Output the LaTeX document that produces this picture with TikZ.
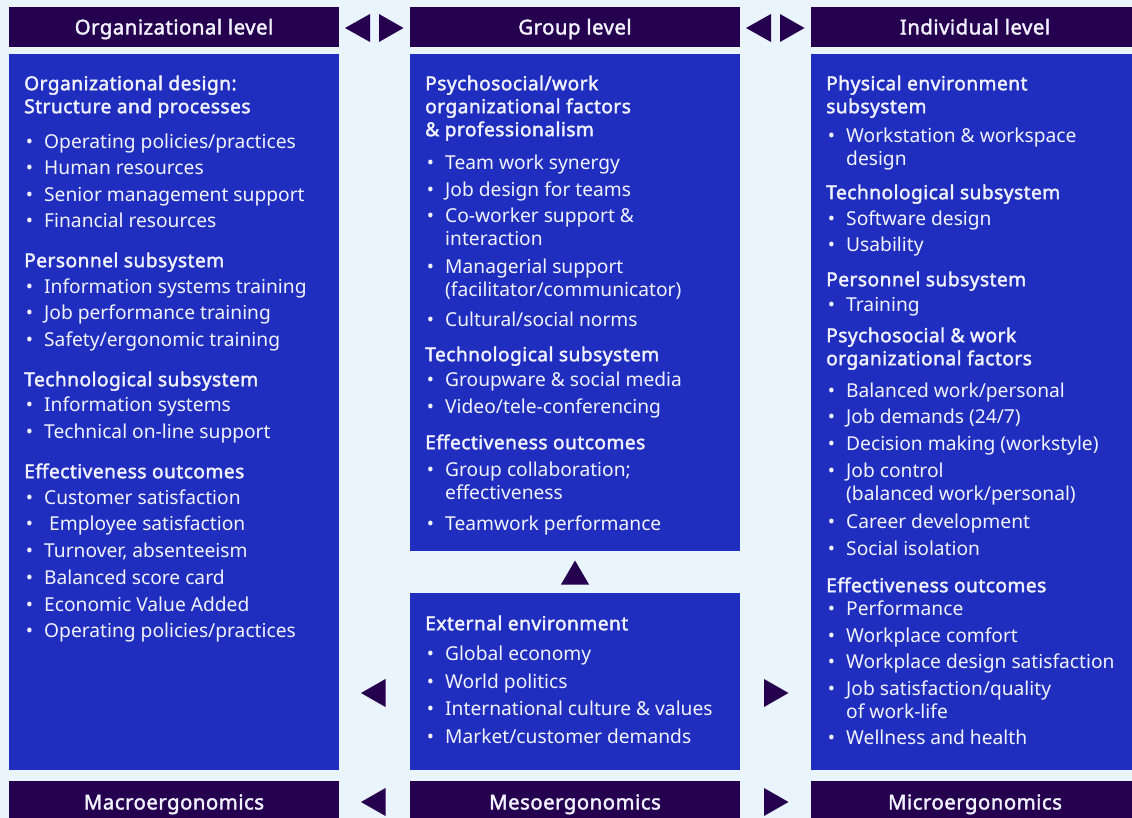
\documentclass[tikz,border=0pt]{standalone}
\usepackage{fontspec}
\setmainfont{Noto Sans}
\newfontfamily\hdfont{Noto Sans}[FakeBold=1.9, LetterSpace=2.3]
\definecolor{bgc}{HTML}{EAF4FD}
\definecolor{darkc}{HTML}{24004F}
\definecolor{panelc}{HTML}{1F2EBE}
\definecolor{txtc}{HTML}{F2F2FF}
\tikzset{
  bar/.style={fill=darkc, draw=none},
  panel/.style={fill=panelc, draw=none},
  tri/.style={fill=darkc, draw=none},
  bartxt/.style={text=txtc, inner sep=0pt, anchor=base, yshift=-7.4pt, font=\fontsize{20.4pt}{24pt}\hdfont},
  ith/.style={text=txtc, inner sep=0pt, anchor=base west, xshift=-20pt, yshift=-7.2pt, font=\fontsize{19.2pt}{23pt}\hdfont},
  itb/.style={text=txtc, inner sep=0pt, anchor=base west, yshift=-7.2pt, font=\fontsize{19.2pt}{23pt}\selectfont, execute at begin node={\llap{\textbullet\hspace{11pt}}}},
  itc/.style={text=txtc, inner sep=0pt, anchor=base west, yshift=-7.2pt, font=\fontsize{19.2pt}{23pt}\selectfont},
}
\newcommand\colitems[3]{%
  \foreach \yy/\kk/\tx [count=\n] in {#3}{\node[it\kk] (#1\n) at (#2,\yy) {\tx};}}
\begin{document}
\begin{tikzpicture}[x=1pt,y=-1pt]
\fill[bgc] (0,0) rectangle (1132,818);
\useasboundingbox (0,0) rectangle (1132,818);
% header bars
\fill[bar] (9,7) rectangle (339,47.5);
\fill[bar] (410,7) rectangle (740,47.5);
\fill[bar] (811,7) rectangle (1132,47.5);
\node[bartxt] (hOrg) at (174,27) {Organizational level};
\node[bartxt] (hGrp) at (575,27) {Group level};
\node[bartxt] (hInd) at (975,27) {Individual level};
% panels
\fill[panel] (9,54) rectangle (339,770);
\fill[panel] (410,54) rectangle (740,551);
\fill[panel] (410,593) rectangle (740,770);
\fill[panel] (811,54) rectangle (1132,770);
% bottom bars
\fill[bar] (9,781) rectangle (339,818);
\fill[bar] (410,781) rectangle (740,818);
\fill[bar] (811,781) rectangle (1132,818);
\node[bartxt] (bMacro) at (174,802) {Macroergonomics};
\node[bartxt] (bMeso) at (575,802) {Mesoergonomics};
\node[bartxt] (bMicro) at (975,802) {Microergonomics};
% triangles
\fill[tri] (345,28) -- (370,14) -- (370,42) -- cycle;
\fill[tri] (379,14) -- (403.5,28) -- (379,42) -- cycle;
\fill[tri] (746,28) -- (771,14) -- (771,42) -- cycle;
\fill[tri] (780,14) -- (804.5,28) -- (780,42) -- cycle;
\fill[tri] (561,584.5) -- (589,584.5) -- (575,560.5) -- cycle;
\fill[tri] (361,693) -- (385.5,679) -- (385.5,707) -- cycle;
\fill[tri] (764,679) -- (788.5,693) -- (764,707) -- cycle;
\fill[tri] (361,802) -- (385.5,788) -- (385.5,816) -- cycle;
\fill[tri] (764,788) -- (788.5,802) -- (764,816) -- cycle;
% left column
\colitems{L}{44}{83/h/{Organizational design:},106/h/{Structure and processes},
141/b/{Operating policies/practices},167/b/{Human resources},194/b/{Senior management support},220/b/{Financial resources},
260/h/{Personnel subsystem},286/b/{Information systems training},312/b/{Job performance training},339/b/{Safety/ergonomic training},
379/h/{Technological subsystem},404/b/{Information systems},431/b/{Technical on-line support},
471/h/{Effectiveness outcomes},497/b/{Customer satisfaction},523/b/{\hspace{5pt}Employee satisfaction},550/b/{Turnover, absenteeism},
577/b/{Balanced score card},604/b/{Economic Value Added},630/b/{Operating policies/practices}}
% middle top column
\colitems{G}{445}{83/h/{Psychosocial/work},106/h/{organizational factors},129/h/{\& professionalism},
162/b/{Team work synergy},189/b/{Job design for teams},215/b/{Co-worker support \&},238/c/{interaction},
266/b/{Managerial support},289/c/{(facilitator/communicator)},319/b/{Cultural/social norms},
354/h/{Technological subsystem},379/b/{Groupware \& social media},406/b/{Video/tele-conferencing},
442/h/{Effectiveness outcomes},469/b/{Group collaboration;},492/c/{effectiveness},523/b/{Teamwork performance}}
% middle bottom column
\colitems{E}{445}{623/h/{External environment},653/b/{Global economy},681/b/{World politics},
708/b/{International culture \& values},736/b/{Market/customer demands}}
% right column
\colitems{I}{846}{83/h/{Physical environment},106/h/{subsystem},135/b/{Workstation \& workspace},158/c/{design},
192/h/{Technological subsystem},218/b/{Software design},244/b/{Usability},
279/h/{Personnel subsystem},304/b/{Training},
335/h/{Psychosocial \& work},358/h/{organizational factors},
390/b/{Balanced work/personal},416/b/{Job demands (24/7)},443/b/{Decision making (workstyle)},
470/b/{Job control},493/c/{(balanced work/personal)},521/b/{Career development},548/b/{Social isolation},
585/h/{Effectiveness outcomes},608/b/{Performance},635/b/{Workplace comfort},661/b/{Workplace design satisfaction},
688/b/{Job satisfaction/quality},711/c/{of work-life},737/b/{Wellness and health}}
\end{tikzpicture}
\end{document}
